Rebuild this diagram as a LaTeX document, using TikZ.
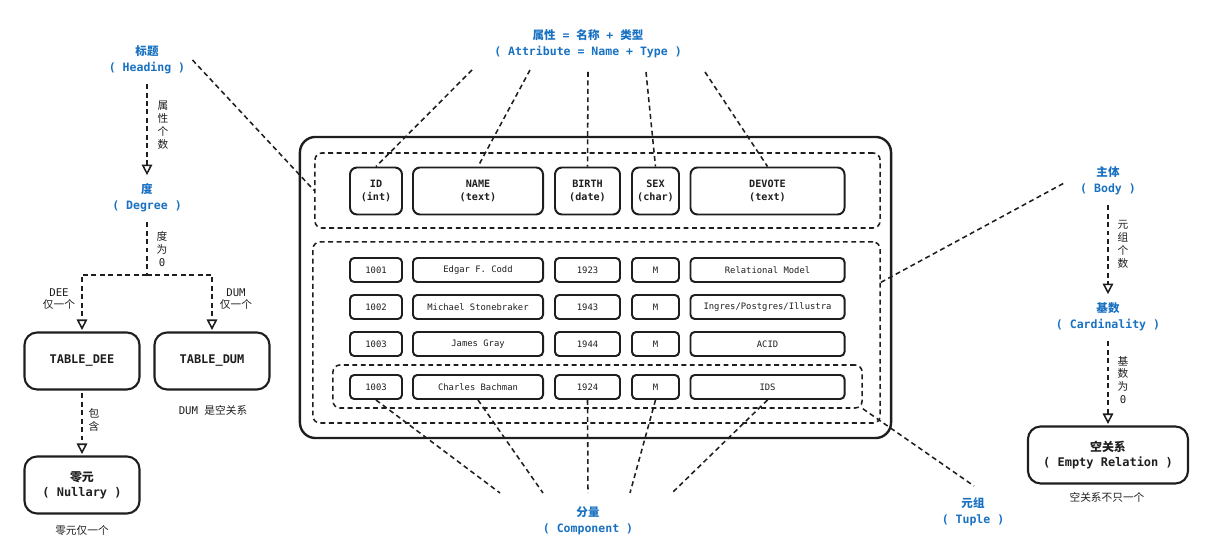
\documentclass[tikz,border=0pt]{standalone}
\usepackage{fontspec}
\setmainfont{DejaVu Sans Mono}
\newfontfamily\cjk{Noto Sans CJK SC}
\usetikzlibrary{arrows.meta}
\definecolor{sketchblue}{HTML}{1971C2}
\definecolor{ink}{HTML}{1E1E1E}
\newcommand{\zh}[1]{{\cjk #1}}

\begin{document}
\begin{tikzpicture}[
    x=0.025cm, y=-0.025cm,
    outerbox/.style={rectangle, draw=ink, line width=1.7pt, rounded corners=11pt, minimum width=14.775cm, minimum height=7.525cm},
    dashbox/.style={rectangle, draw=ink, line width=1.1pt, dash pattern=on 3.5pt off 2.5pt, rounded corners=5pt},
    field/.style={rectangle, draw=ink, line width=1.4pt, rounded corners=5pt, minimum height=1.175cm, align=center, text=ink, font=\fontsize{7.2}{9.2}\selectfont\bfseries},
    cell/.style={rectangle, draw=ink, line width=1.4pt, rounded corners=3pt, minimum height=0.6cm, text=ink, font=\fontsize{6.3}{7}\selectfont},
    colid/.style={minimum width=1.3cm},
    colname/.style={minimum width=3.25cm},
    colbirth/.style={minimum width=1.625cm},
    colsex/.style={minimum width=1.175cm},
    coldevote/.style={minimum width=3.85cm},
    term/.style={rectangle, draw=ink, line width=1.5pt, rounded corners=9pt, minimum width=2.875cm, minimum height=1.425cm, align=center, text=ink, font=\fontsize{8.5}{10.6}\selectfont\bfseries},
    concept/.style={align=center, inner sep=5pt, text=sketchblue, font=\fontsize{8.2}{11.3}\selectfont\bfseries},
    note/.style={align=center, text=ink, font=\fontsize{7.6}{9.2}\selectfont},
    leader/.style={draw=ink, line width=1.1pt, dash pattern=on 3.5pt off 2.5pt},
    flow/.style={leader, -{Triangle[open, length=7.5pt, width=7.5pt, line width=1.1pt]}, shorten >=1pt}
]
\useasboundingbox (0,0) rectangle (1219,556);

% Relation frame and groups
\node[outerbox] (relation) at (595.5,287.5) {};
\node[dashbox, minimum width=14.125cm, minimum height=1.875cm] (headgrp) at (597.5,190.5) {};
\node[dashbox, minimum width=14.175cm, minimum height=4.525cm] (bodygrp) at (596.5,332.5) {};
\node[dashbox, minimum width=13.225cm, minimum height=1.075cm] (tuplegrp) at (597.5,386.5) {};

% Heading fields
\node[field, colid] (hid) at (376,191) {ID\\(int)};
\node[field, colname] (hname) at (478,191) {NAME\\(text)};
\node[field, colbirth] (hbirth) at (587.5,191) {BIRTH\\(date)};
\node[field, colsex] (hsex) at (655.5,191) {SEX\\(char)};
\node[field, coldevote] (hdevote) at (767.5,191) {DEVOTE\\(text)};

% Body rows
\node[cell, colid] (id1) at (376,270) {1001};
\node[cell, colname] (name1) at (478,270) {Edgar F. Codd};
\node[cell, colbirth] (birth1) at (587.5,270) {1923};
\node[cell, colsex] (sex1) at (655.5,270) {M};
\node[cell, coldevote] (devote1) at (767.5,270) {Relational Model};

\node[cell, colid] (id2) at (376,307) {1002};
\node[cell, colname] (name2) at (478,307) {Michael Stonebraker};
\node[cell, colbirth] (birth2) at (587.5,307) {1943};
\node[cell, colsex] (sex2) at (655.5,307) {M};
\node[cell, coldevote] (devote2) at (767.5,307) {Ingres/Postgres/Illustra};

\node[cell, colid] (id3) at (376,344) {1003};
\node[cell, colname] (name3) at (478,344) {James Gray};
\node[cell, colbirth] (birth3) at (587.5,344) {1944};
\node[cell, colsex] (sex3) at (655.5,344) {M};
\node[cell, coldevote] (devote3) at (767.5,344) {ACID};

\node[cell, colid] (id4) at (376,387) {1003};
\node[cell, colname] (name4) at (478,387) {Charles Bachman};
\node[cell, colbirth] (birth4) at (587.5,387) {1924};
\node[cell, colsex] (sex4) at (655.5,387) {M};
\node[cell, coldevote] (devote4) at (767.5,387) {IDS};

% Concept labels
\node[concept] (headlbl) at (147,60) {\zh{标题}\\( Heading )};
\node[concept] (deglbl) at (147,198) {\zh{度}\\( Degree )};
\node[concept] (attrlbl) at (588,44) {\zh{属性} = \zh{名称} + \zh{类型}\\( Attribute = Name + Type )};
\node[concept] (bodylbl) at (1108,181) {\zh{主体}\\( Body )};
\node[concept] (cardlbl) at (1108,317) {\zh{基数}\\( Cardinality )};
\node[concept] (complbl) at (588,521) {\zh{分量}\\( Component )};
\node[concept] (tuplelbl) at (973,512) {\zh{元组}\\( Tuple )};

% Special relations
\node[term] (dee) at (82,361) {TABLE\_DEE};
\node[term] (dum) at (212,361) {TABLE\_DUM};
\node[term] (nullary) at (82,485) {\zh{零元}\\( Nullary )};
\node[term, minimum width=4cm] (emptyrel) at (1108,455) {\zh{空关系}\\( Empty Relation )};

% Notes
\node[note] (attrcount) at (163,125) {\zh{属}\\\zh{性}\\\zh{个}\\\zh{数}};
\node[note] (degzero) at (162,249) {\zh{度}\\\zh{为}\\0};
\node[note] (deenote) at (59,299) {DEE\\\zh{仅一个}};
\node[note] (dumnote) at (236,299) {DUM\\\zh{仅一个}};
\node[note] (dumempty) at (213,410) {DUM \zh{是空关系}};
\node[note] (contains) at (94,420) {\zh{包}\\\zh{含}};
\node[note] (onlyone) at (82,530) {\zh{零元仅一个}};
\node[note] (tuplecount) at (1123,244) {\zh{元}\\\zh{组}\\\zh{个}\\\zh{数}};
\node[note] (cardzero) at (1123,380) {\zh{基}\\\zh{数}\\\zh{为}\\0};
\node[note] (notonly) at (1107,497) {\zh{空关系不只一个}};

% Free ends of the leaders
\coordinate (a1) at (472,70);
\coordinate (a2) at (530,70);
\coordinate (a3) at (588,72);
\coordinate (a4) at (646,72);
\coordinate (a5) at (705,72);
\coordinate (c1) at (500,493);
\coordinate (c2) at (543,493);
\coordinate (c3) at (588,493);
\coordinate (c4) at (630,493);
\coordinate (c5) at (672,493);
\coordinate (t1) at (974,486);
\coordinate (b1) at (1066,182);
\coordinate (split) at (147,275);

% Leaders - attributes
\draw[leader] (a1) -- (hid.north);
\draw[leader] (a2) -- (hname.north);
\draw[leader] (a3) -- (hbirth.north);
\draw[leader] (a4) -- (hsex.north);
\draw[leader] (a5) -- (hdevote.north);

% Leaders - components
\draw[leader] (id4.south) -- (c1);
\draw[leader] (name4.south) -- (c2);
\draw[leader] (birth4.south) -- (c3);
\draw[leader] (sex4.south) -- (c4);
\draw[leader] (devote4.south) -- (c5);

% Leaders - heading, body, tuple
\draw[leader] (headlbl.east) -- (headgrp.west);
\draw[leader] (bodygrp.10) -- (b1);
\draw[leader] (tuplegrp.south east) -- (t1);

% Flows - left side
\draw[flow, shorten <=2pt] (headlbl.south) -- (deglbl.north);
\draw[leader, shorten <=2pt] (deglbl.south) -- (split);
\draw[flow] (split) -| (dee.north);
\draw[flow] (split) -| (dum.north);
\draw[flow, shorten <=2pt] (dee.south) -- (nullary.north);

% Flows - right side
\draw[flow, shorten <=2pt] (bodylbl.south) -- (cardlbl.north);
\draw[flow, shorten <=2pt] (cardlbl.south) -- (emptyrel.north);

\end{tikzpicture}
\end{document}
